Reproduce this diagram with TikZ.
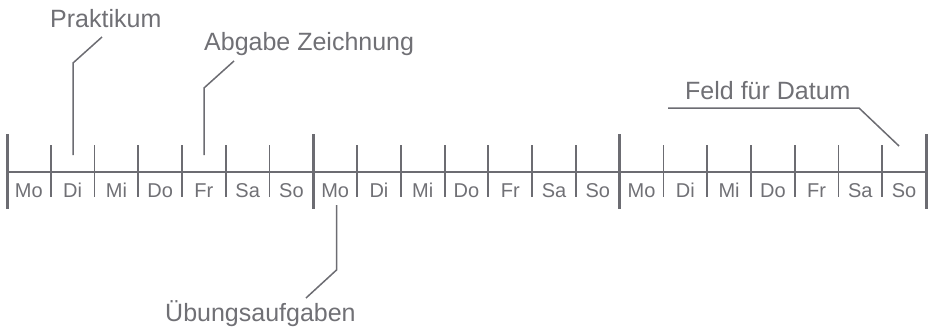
\documentclass[tikz,border=0pt]{standalone}
\usepackage{fontspec}
\setmainfont{Liberation Sans}
\definecolor{linegray}{RGB}{108,108,114}
\definecolor{textgray}{RGB}{112,112,117}
\begin{document}
\begin{tikzpicture}[x=1pt,y=-1pt,
  thintick/.style={draw=linegray, line width=1.8pt},
  weekbar/.style={draw=linegray, line width=3pt},
  axisline/.style={draw=linegray, line width=1.6pt},
  leader/.style={draw=linegray, line width=1.5pt},
  daylabel/.style={text=textgray, font=\fontsize{20}{24}\selectfont, anchor=base, inner sep=0pt},
  callout/.style={text=textgray, font=\fontsize{25}{30}\selectfont, anchor=base west, inner sep=0pt}]
\useasboundingbox (0,0) rectangle (928,330);
\def\dw{43.762}
% axis
\coordinate (axL) at (7,172);
\coordinate (axR) at ({7+21*\dw},172);
\draw[axisline] (axL) -- (axR);
% thin day ticks
\foreach \k in {1,...,20} {
  \draw[thintick] ({7+\k*\dw},145) -- ({7+\k*\dw},197);
}
% week bars
\foreach \k in {0,7,14,21} {
  \draw[weekbar] ({7+\k*\dw},134) -- ({7+\k*\dw},209);
}
% day labels
\foreach \w in {0,1,2} {
  \foreach \d [count=\i from 0] in {Mo,Di,Mi,Do,Fr,Sa,So} {
    \node[daylabel] (d\w\i) at ({7+(7*\w+\i+0.5)*\dw},197) {\d};
  }
}
% callouts
\node[callout] (prak) at (50,27) {Praktikum};
\node[callout] (abg) at (204,50) {Abgabe Zeichnung};
\node[callout] (feld) at (685,99) {Feld für Datum};
\node[callout] (ueb) at (165,321) {Übungsaufgaben};
% leader lines
\coordinate (prakA) at (102,37);
\coordinate (prakB) at (73,63);
\coordinate (prakC) at (73,155);
\draw[leader] (prakA) -- (prakB) -- (prakC);
\coordinate (abgA) at (234,61);
\coordinate (abgB) at (204,88);
\coordinate (abgC) at (204,155);
\draw[leader] (abgA) -- (abgB) -- (abgC);
\coordinate (feldA) at (668,108);
\coordinate (feldB) at (859,108);
\coordinate (feldC) at (899,146);
\draw[leader] (feldA) -- (feldB) -- (feldC);
\coordinate (uebA) at (306,298);
\coordinate (uebB) at (336.5,270);
\coordinate (uebC) at (336.5,205);
\draw[leader] (uebA) -- (uebB) -- (uebC);
\end{tikzpicture}
\end{document}
